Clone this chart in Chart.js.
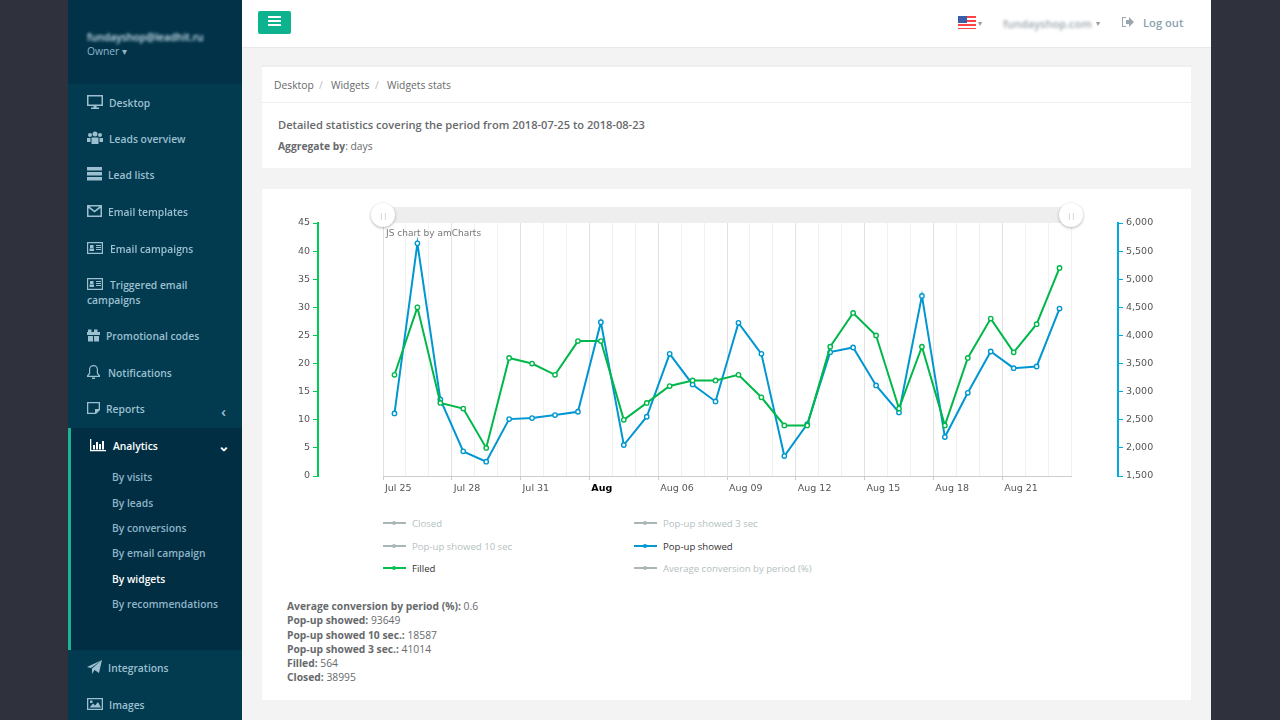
<!DOCTYPE html>
<html>
<head>
<meta charset="utf-8">
<title>Widgets stats</title>
<script src="https://cdn.jsdelivr.net/npm/chart.js@4/dist/chart.umd.min.js"></script>
<style>
  html, body { margin: 0; padding: 0; }
  body { width: 1280px; height: 720px; overflow: hidden; position: relative; background: #2f323c; font-family: "Open Sans", sans-serif; font-size: 10.3px; color: #676a6c; }
  .abs { position: absolute; white-space: nowrap; }
  #page { position: absolute; left: 242px; top: 0; width: 969px; height: 720px; background: #f3f3f4; }
  #topbar { position: absolute; left: 242px; top: 0; width: 969px; height: 47px; background: #fff; border-bottom: 1px solid #e7eaec; }
  .panel { position: absolute; left: 262px; width: 929px; background: #fff; }
  #sidebar { position: absolute; left: 68px; top: 0; width: 174px; height: 720px; background: #023a50; overflow: hidden; }
  #sidehead { position: absolute; left: 68px; top: 0; width: 174px; height: 84px; background: #013248; }
  #active { position: absolute; left: 68px; top: 428px; width: 171px; height: 222px; background: #012e43; border-left: 3px solid #1ab394; }
  .nav { color: #9cc0d0; font-weight: 600; transform: translateY(-50%); }
  .sub { color: #8fb4c8; font-weight: 600; transform: translateY(-50%); }
  .icon { position: absolute; fill: #9cc0d0; }
  #chart { position: absolute; left: 280px; top: 200px; }
  #scroll { position: absolute; left: 383px; top: 207px; width: 688px; height: 16px; background: #eeeeee; }
  .handle { position: absolute; top: 203px; width: 24px; height: 24px; border-radius: 50%; background: #fff; box-shadow: 0 1px 3px rgba(0,0,0,.3); color: #bbb; font-size: 8px; letter-spacing: -0.5px; line-height: 24px; text-align: center; }
  .legline { position: absolute; width: 23px; height: 2px; }
  .legdot { position: absolute; left: 9px; top: -1px; width: 4px; height: 4px; border-radius: 50%; background: inherit; }
  .stats { position: absolute; left: 287px; top: 599px; line-height: 14.3px; }
  .stats b { font-weight: 700; }
</style>
</head>
<body>
<div id="page"></div>
<div id="topbar"></div>
<div id="sidebar"></div>
<div id="sidehead"></div>
<div id="active"></div>

<div class="abs" style="left:87px;top:30px;color:#cfe4ee;font-weight:600;filter:blur(1.6px);">fundayshop@leadhit.ru</div>
<div class="abs" style="left:87px;top:44px;color:#8fb4c8;">Owner &#9662;</div>

<div class="abs" style="left:258px;top:11px;width:33px;height:23px;background:#0db38f;border-radius:2px;"></div>
<div class="abs" style="left:268px;top:16px;width:13px;height:2px;background:#fff;box-shadow:0 4px 0 #fff,0 8px 0 #fff;"></div>
<div class="abs" style="left:958px;top:16px;width:18px;height:13px;background:repeating-linear-gradient(#f44 0 2px,#fff 2px 4px);"></div>
<div class="abs" style="left:958px;top:16px;width:9px;height:7px;background:#3a5ea8;"></div>
<div class="abs" style="left:978px;top:17px;color:#999;font-size:8px;">&#9662;</div>
<div class="abs" style="left:1003px;top:16px;color:#9aa5ad;font-size:11px;font-weight:600;filter:blur(1.6px);">fundayshop.com</div>
<div class="abs" style="left:1096px;top:17px;color:#999;font-size:8px;">&#9662;</div>
<svg class="abs" style="left:1121px;top:16px;" width="13" height="12" viewBox="0 0 13 12"><path d="M1 1h4v1H2v8h3v1H1z M5 4h3V1l5 5-5 5V8H5z" fill="#9aa5ad"/></svg>
<div class="abs" style="left:1143px;top:15px;color:#8ba3ae;font-size:11.2px;font-weight:600;">Log out</div>

<div class="panel" style="top:65px;height:103px;border-top:2px solid #eceeef;box-sizing:border-box;"></div>
<div class="abs" style="left:262px;top:102px;width:929px;height:1px;background:#eceeef;"></div>
<div class="abs" style="left:274px;top:78px;">Desktop</div>
<div class="abs" style="left:319px;top:78px;color:#bbb;">/</div>
<div class="abs" style="left:331px;top:78px;">Widgets</div>
<div class="abs" style="left:375px;top:78px;color:#bbb;">/</div>
<div class="abs" style="left:387px;top:78px;">Widgets stats</div>
<div class="abs" style="left:278px;top:117px;font-size:11.1px;font-weight:600;">Detailed statistics covering the period from 2018-07-25 to 2018-08-23</div>
<div class="abs" style="left:278px;top:139px;"><b>Aggregate by</b>: days</div>

<div class="panel" style="top:189px;height:511px;"></div>
<canvas id="chart" width="890" height="300"></canvas>
<div id="scroll"></div>
<div class="handle" style="left:371px;">||</div>
<div class="handle" style="left:1059px;">||</div>
<div class="abs" style="left:386px;top:228px;font-family:'DejaVu Sans';font-size:9px;color:#777;">JS chart by amCharts</div>
<div id="legend"></div>
<div class="stats" id="stats"></div>

<script>
const categories = ['Jul 25','Jul 26','Jul 27','Jul 28','Jul 29','Jul 30','Jul 31','Aug 01','Aug 02','Aug 03',
  'Aug 04','Aug 05','Aug 06','Aug 07','Aug 08','Aug 09','Aug 10','Aug 11','Aug 12','Aug 13',
  'Aug 14','Aug 15','Aug 16','Aug 17','Aug 18','Aug 19','Aug 20','Aug 21','Aug 22','Aug 23'];
const filled = [18,30,13,12,5,21,20,18,24,24,10,13,16,17,17,18,14,9,9,23,29,25,12,23,9,21,28,22,27,37];
const popupShowed = [2613,5639,2862,1938,1755,2512,2530,2584,2643,4236,2051,2554,3673,3128,2826,
  4224,3673,1855,2424,3703,3786,3111,2631,4703,2193,2980,3714,3418,3448,4478];

const legendLabels = ['Closed','Pop-up showed 3 sec','Pop-up showed 10 sec','Pop-up showed','Filled','Average conversion by period (%)'];
const statLabels = ['Average conversion by period (%)','Pop-up showed','Pop-up showed 10 sec.','Pop-up showed 3 sec.','Filled','Closed'];
const statValues = ['0.6','93649','18587','41014','564','38995'];

const navItems = [
  ['Desktop',109,103,'screen',87],['Leads overview',109,139,'users',87],['Lead lists',108,175,'list',87],
  ['Email templates',108,212,'mail',87],['Email campaigns',110,249,'card',87],['Triggered email',110,285,'card',87],
  ['campaigns',87,300],['Promotional codes',106,336,'gift',87],['Notifications',108,373,'bell',87],
  ['Reports',106,409,'note',87],['Integrations',108,668,'plane',87],['Images',109,705,'image',87]
];
const subItems = [['By visits',477],['By leads',503],['By conversions',528],['By email campaign',553],['By widgets',579],['By recommendations',604]];

const iconPaths = {
  screen: 'M0 0h16v11H9.500v1.500H12V14H4v-1.500h2.500V11H0zM1.500 1.500v8h13v-8z',
  users: 'M1 4a2 2 0 1 0 4 0a2 2 0 1 0-4 0zM5.500 3a2.500 2.500 0 1 0 5 0a2.500 2.500 0 1 0-5 0zM11 4a2 2 0 1 0 4 0a2 2 0 1 0-4 0zM0 7h3.500v4H0zM12.500 7H16v4h-3.500zM4.500 6.500h7V13h-7z',
  list: 'M0 0h15v3.500H0zM0 5h15v3.500H0zM0 10h15v3.500H0z',
  mail: 'M0 1h15v12H0zM1.500 4v7.500h12V4L7.500 8.500zM2.500 2.500l5 4 5-4z',
  card: 'M0 1h16v12H0zM1.200 2.200v9.600h13.600V2.200zM3 4h3.500v3H3zM2.500 7.500h4.500V10H2.500zM9 4h5v1H9zM9 6h5v1H9zM9 8h5v1H9z',
  gift: 'M1 1.500h3.500V4H7V1.500h3.500V4H13v3H0V4h1zM1 8h5v5.500H1zM7 8h5v5.500H7z',
  bell: 'M6.500 0a4.500 4.500 0 0 1 4.500 4.500V8l2 2.500V12H0v-1.500L2 8V4.500A4.500 4.500 0 0 1 6.500 0zM3.200 4.500v4L1.500 10.800h10L9.800 8.500v-4a3.300 3.300 0 0 0-6.600 0zM5 12.500h3V14H5z',
  note: 'M0 1h13v8l-4 4H0zM1.300 2.300v9.400h6.700V8h3.700V2.300z',
  plane: 'M15 0L12 13 7.500 10 5 14V8.500zM0 7L15 0 4 8z',
  image: 'M0 1h16v12H0zM1.300 2.300v9.400h13.400V2.300zM2.500 10.500l3.500-4 2 2 3-3.500 3 5.500zM3 3.500h2.500V6H3z',
  chart: 'M0 0h1.300v11H16v1.300H0zM3 6h2v4.500H3zM6 3h2v7.500H6zM9 5h2v5.500H9zM12 2h2v8.500h-2z'
};

function addText(text, x, y, cls, style) {
  const el = document.createElement('div');
  el.className = 'abs ' + cls;
  el.textContent = text;
  el.style.left = x + 'px';
  el.style.top = y + 'px';
  if (style) el.style.cssText += style;
  document.body.appendChild(el);
}

function addIcon(name, x, y, color) {
  const svg = `<svg class="icon" style="left:${x}px;top:${y}px;${color ? 'fill:' + color : ''}" width="16" height="14" viewBox="0 0 16 14"><path fill-rule="evenodd" d="${iconPaths[name]}"/></svg>`;
  document.body.insertAdjacentHTML('beforeend', svg);
}

navItems.forEach(([label, x, y, icon, iconX]) => {
  addText(label, x, y, 'nav');
  if (icon) addIcon(icon, iconX, y - 8);
});
addText('Analytics', 113, 446, 'nav', 'color:#fff;');
addIcon('chart', 90, 439, '#fff');
subItems.forEach(([label, y]) => addText(label, 112, y, 'sub', label === 'By widgets' ? 'color:#fff;' : ''));
addText('\u2039', 221, 411, 'nav', 'font-size:15px;');
addText('\u2304', 218, 445, 'nav', 'color:#fff;font-size:14px;');

// legend: only the two series that are switched on get their colour
const legendColors = { 'Pop-up showed': '#0099d0', 'Filled': '#00c050' };
const legendEl = document.getElementById('legend');
legendLabels.forEach((label, i) => {
  const x = i % 2 === 0 ? 383 : 634;
  const y = 523 + Math.floor(i / 2) * 22.5;
  const color = legendColors[label];
  legendEl.insertAdjacentHTML('beforeend',
    `<div class="legline" style="left:${x}px;top:${y - 1}px;background:${color || '#a9b7b7'}"><div class="legdot"></div></div>`);
  addText(label, x + 29, y, 'nav', `font-size:9.6px;font-weight:400;color:${color ? '#333' : '#b3c1c1'};`);
});

document.getElementById('stats').innerHTML = statLabels
  .map((label, i) => `<b>${label}:</b> ${statValues[i]}`).join('<br>');

const axisFont = { family: 'DejaVu Sans', size: 9.5 };

new Chart(document.getElementById('chart'), {
  type: 'line',
  data: {
    labels: categories,
    datasets: [
      { label: 'Filled', data: filled, yAxisID: 'yFilled', borderColor: '#00b84a', backgroundColor: '#fff',
        borderWidth: 2, pointRadius: 2.2, pointBorderWidth: 1.4, tension: 0 },
      { label: 'Pop-up showed', data: popupShowed, yAxisID: 'yShown', borderColor: '#0097d1', backgroundColor: '#fff',
        borderWidth: 2, pointRadius: 2.2, pointBorderWidth: 1.4, tension: 0 }
    ]
  },
  options: {
    responsive: false,
    animation: false,
    layout: { padding: { top: 23 } },
    plugins: { legend: { display: false } },
    scales: {
      x: {
        offset: true,
        afterFit: s => { s.height = 24; },
        grid: {
          offset: true,
          color: c => c.index % 3 === 0 ? '#e2e2e2' : '#f1f1f1',
          tickColor: c => c.index % 3 === 0 ? '#cccccc' : 'transparent',
          tickLength: 4
        },
        border: { color: '#cccccc' },
        ticks: {
          autoSkip: false,
          maxRotation: 0,
          align: 'start',
          labelOffset: -9.5,
          padding: 3,
          color: c => c.index === 9 ? '#000' : '#555',
          font: c => ({ ...axisFont, weight: c.index === 9 ? 'bold' : 'normal' }),
          callback: (v, i) => i % 3 !== 0 ? '' : (i === 9 ? 'Aug' : categories[i])
        }
      },
      yFilled: {
        position: 'left', weight: 1, min: 0, max: 45,
        afterFit: s => { s.width = 38; },
        grid: { drawOnChartArea: false, color: '#00cc55', tickLength: 5 },
        border: { color: '#00cc55', width: 2 },
        ticks: { stepSize: 5, color: '#555', font: axisFont, padding: 3 }
      },
      padLeft: {
        position: 'left', weight: 0,
        afterFit: s => { s.width = 65; },
        grid: { display: false }, border: { display: false }, ticks: { display: false }
      },
      yShown: {
        position: 'right', weight: 1, min: 1500, max: 6000,
        afterFit: s => { s.width = 52; },
        grid: { drawOnChartArea: false, color: '#00aadd', tickLength: 5 },
        border: { color: '#00aadd', width: 2 },
        ticks: { stepSize: 500, color: '#555', font: axisFont, padding: 3, callback: v => v.toLocaleString('en-US') }
      },
      padRight: {
        position: 'right', weight: 0,
        afterFit: s => { s.width = 47; },
        grid: { display: false }, border: { display: false }, ticks: { display: false }
      }
    }
  }
});
</script>
</body>
</html>
